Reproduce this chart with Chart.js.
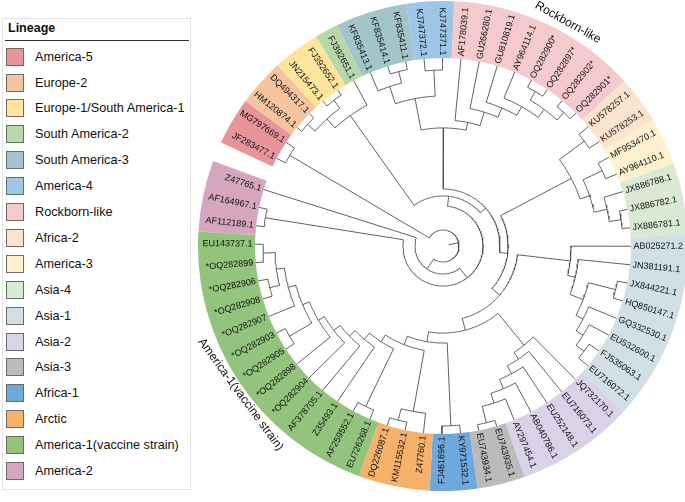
<!DOCTYPE html>
<html>
<head>
<meta charset="utf-8">
<title>Lineage phylogeny</title>
<script src="https://cdn.jsdelivr.net/npm/chart.js@4.4.1/dist/chart.umd.min.js"></script>
<style>
  html, body { margin:0; padding:0; background:#ffffff; width:685px; height:502px; overflow:hidden; position:relative; font-family:"Liberation Sans", Arial, sans-serif; }
  #ringCanvas { position:absolute; left:198px; top:1px; }
  #treeCanvas { position:absolute; left:0; top:0; }
  #legend { position:absolute; left:2px; top:18px; width:189px; height:472px; border:1px solid #e2e2e2; box-sizing:border-box; background:#fff; }
  #legend .title { position:absolute; left:5px; top:2px; font-weight:bold; font-size:12.5px; color:#111; }
  #legend .rule { position:absolute; left:2px; right:1px; top:21px; height:0; border-top:1.3px solid #333; }
  .item { position:absolute; left:3px; height:18px; width:180px; }
  .sw { position:absolute; left:0; top:0; width:16px; height:16px; border:1px solid #6a6a6a; }
  .lab { position:absolute; left:29px; top:0; line-height:18px; font-size:12.7px; color:#111; white-space:nowrap; }
</style>
</head>
<body>
<div id="legend"><div class="title">Lineage</div><div class="rule"></div></div>
<canvas id="ringCanvas" width="490" height="490"></canvas>
<canvas id="treeCanvas" width="685" height="502"></canvas>
<script>
// ---------------- data ----------------
const lineageNames = ["America-5","Europe-2","Europe-1/South America-1","South America-2","South America-3","America-4","Rockborn-like","Africa-2","America-3","Asia-4","Asia-1","Asia-2","Asia-3","Africa-1","Arctic","America-1(vaccine strain)","America-2"];
const lineageColors = ["#e8959a","#f6c59e","#ffe49b","#b7d8a8","#a3c4c8","#9fc5e8","#f5cacd","#fce3cf","#fff1cf","#d9ead4","#d0e0e4","#d9d2e9","#bbbbbb","#6fa8dc","#f6b26b","#93c47d","#d5a6bd"];

const leafNames = ["JF283477.1","MG797669.1","HM120874.1","DQ494317.1","JN215473.1","FJ392652.1","FJ392651.1",
  "KF835413.1","KF835414.1","KF835411.1","KJ747372.1","KJ747371.1",
  "AF178039.1","GU266280.1","GU810819.1","AY964114.1","OQ282900*","OQ282897*","OQ282902*","OQ282901*",
  "KU578257.1","KU578253.1","MF953470.1","AY964110.1","JX886788.1","JX886782.1","JX886781.1",
  "AB025271.2","JN381191.1","JX844221.1","HQ850147.1","GQ332530.1","EU532600.1","FJ535063.1","EU716072.1",
  "JQ732170.1","EU716073.1","EU252148.1","AB040786.1","AY297454.1","EU743935.1","EU743934.1",
  "KY971532.1","FJ461696.1","Z47760.1","KM115532.1","DQ226087.1",
  "EU726268.1","AF259552.1","Z35493.1","AF378705.1","*OQ282904","*OQ282898","*OQ282905","*OQ282903",
  "*OQ282907","*OQ282908","*OQ282906","*OQ282899","EU143737.1",
  "AF112189.1","AF164967.1","Z47765.1"];
const leafLineage = [0,0,1,1,2,2,3,4,4,4,5,5,6,6,6,6,6,6,6,6,7,7,8,8,9,9,9,
  10,10,10,10,10,10,10,10,11,11,11,11,11,12,12,13,13,14,14,14,
  15,15,15,15,15,15,15,15,15,15,15,15,15,16,16,16];

// internal nodes: refs < 100 are leaves, refs >= 100 are internal nodes (100 + index)
const nodeChildren = [
  [10,11],[8,9],[7,101],[102,100],                                   // South America-3 + America-4
  [16,17],[18,19],[104,105],[15,106],[14,107],[13,108],[12,109],[103,110], // Rockborn-like
  [0,1],[2,3],[4,5],[113,114],[115,6],                               // America-5, Europe
  [20,21],[22,23],[25,26],[24,119],[118,120],[117,121],              // Africa-2, America-3, Asia-4
  [33,34],[32,123],[31,124],[29,30],[126,125],[28,127],[27,128],     // Asia-1
  [40,41],[39,130],[38,131],[37,132],[36,133],[35,134],              // Asia-2, Asia-3
  [42,43],[45,46],[44,137],                                          // Africa-1, Arctic
  [58,59],[56,57],[140,139],[55,141],[53,54],[143,142],[52,144],[51,145],[50,146],[49,147],[47,48],[149,148], // America-1
  [60,61],                                                           // America-2 pair
  [138,150],[136,152],[135,153],[129,154],[122,155],[111,156],[116,157],[158,151],[159,62],[112,160] // backbone
];
// node height as a fraction of the root-to-tip distance
const nodeHeight = [
  0.936,0.957,0.894,0.798,
  0.957,0.957,0.904,0.851,0.798,0.745,0.670,0.628,
  0.947,0.968,0.968,0.915,0.851,
  0.936,0.936,0.957,0.894,0.824,0.771,
  0.936,0.883,0.840,0.947,0.798,0.723,0.681,
  0.968,0.878,0.824,0.771,0.723,0.681,
  0.957,0.957,0.894,
  0.957,0.947,0.894,0.851,0.947,0.809,0.771,0.734,0.691,0.649,0.947,0.606,
  0.957,
  0.564,0.516,0.463,0.399,0.346,0.303,0.266,0.213,0.149,0.085
];
const rootEdge = 0.053;

const cladeLabels = ["Rockborn-like","America-1(vaccine strain)"];
const cladeLabelLineage = [6,15];

// ---------------- layout ----------------
const CX = 443, CY = 246, R_TIP = 188, R_LABEL = 190.5;
const START = 207.8, STEP = 5.64;
const RING_OUT = 245, RING_IN = 188;
const CLADE_SHIFT = [4, -3], CLADE_R = [256, 251];

// legend (html, generated from the lineage arrays)
const legendEl = document.getElementById('legend');
lineageNames.forEach((n, k) => {
  const it = document.createElement('div');
  it.className = 'item';
  it.style.top = (28.6 + k * 25.9) + 'px';
  it.innerHTML = '<div class="sw" style="background:' + lineageColors[k] + '"></div><div class="lab"></div>';
  it.querySelector('.lab').textContent = n;
  legendEl.appendChild(it);
});

// ---------------- ring (doughnut) ----------------
const counts = lineageNames.map((_, k) => leafLineage.filter(v => v === k).length);
const gap = 360 / STEP - leafNames.length;
new Chart(document.getElementById('ringCanvas'), {
  type: 'doughnut',
  data: {
    labels: lineageNames.concat(['']),
    datasets: [{
      data: counts.concat([gap]),
      backgroundColor: lineageColors.concat(['rgba(0,0,0,0)']),
      borderWidth: 0
    }]
  },
  options: {
    responsive: false, animation: false, events: [],
    radius: RING_OUT, cutout: RING_IN,
    rotation: START - STEP / 2 + 90, circumference: 360,
    layout: { padding: 0 },
    plugins: { legend: { display: false }, tooltip: { enabled: false } }
  }
});

// ---------------- tree ----------------
function leafAngle(i) { return START + i * STEP; }
function angleOf(ref) {
  if (ref < 100) return leafAngle(ref);
  const ch = nodeChildren[ref - 100];
  return (angleOf(ch[0]) + angleOf(ch[ch.length - 1])) / 2;
}
function radiusOf(ref) { return ref < 100 ? R_TIP : nodeHeight[ref - 100] * R_TIP; }
function pt(r, aDeg) {
  const a = aDeg * Math.PI / 180;
  return { x: CX + r * Math.cos(a), y: CY + r * Math.sin(a) };
}
const childSet = new Set(nodeChildren.flat());
const datasets = [];
const lineStyle = { showLine: true, borderColor: '#505050', borderWidth: 0.9, pointRadius: 0, fill: false, tension: 0, clip: false };
nodeChildren.forEach((ch, k) => {
  const rN = nodeHeight[k] * R_TIP;
  const a0 = angleOf(ch[0]), a1 = angleOf(ch[ch.length - 1]);
  const pts = [pt(radiusOf(ch[0]), a0), pt(rN, a0)];
  const n = Math.max(2, Math.ceil(Math.abs(a1 - a0)));
  for (let j = 1; j < n; j++) pts.push(pt(rN, a0 + (a1 - a0) * j / n));
  pts.push(pt(rN, a1), pt(radiusOf(ch[ch.length - 1]), a1));
  datasets.push(Object.assign({ data: pts }, lineStyle));
  if (!childSet.has(100 + k)) {
    const a = angleOf(100 + k);
    datasets.push(Object.assign({ data: [pt(rN - rootEdge * R_TIP, a), pt(rN, a)] }, lineStyle));
  }
});

const labelPlugin = {
  id: 'tipLabels',
  afterDatasetsDraw(chart) {
    const { ctx, scales: { x, y } } = chart;
    ctx.save();
    ctx.fillStyle = '#111';
    ctx.textBaseline = 'middle';
    ctx.font = '9px "Liberation Sans", Arial, sans-serif';
    leafNames.forEach((name, i) => {
      const a = leafAngle(i);
      const p = pt(R_LABEL, a);
      const rad = a * Math.PI / 180;
      const norm = ((a % 360) + 360) % 360;
      ctx.save();
      ctx.translate(x.getPixelForValue(p.x), y.getPixelForValue(p.y));
      if (norm > 90 && norm < 270) { ctx.rotate(rad + Math.PI); ctx.textAlign = 'right'; }
      else { ctx.rotate(rad); ctx.textAlign = 'left'; }
      ctx.fillText(name, 0, 0);
      ctx.restore();
    });
    ctx.font = '12px "Liberation Sans", Arial, sans-serif';
    ctx.textAlign = 'center';
    cladeLabels.forEach((txt, c) => {
      const idx = leafLineage.map((v, i) => v === cladeLabelLineage[c] ? i : -1).filter(i => i >= 0);
      const a = (leafAngle(idx[0]) + leafAngle(idx[idx.length - 1])) / 2 + CLADE_SHIFT[c];
      const norm = ((a % 360) + 360) % 360;
      const p = pt(CLADE_R[c], a);
      ctx.save();
      ctx.translate(x.getPixelForValue(p.x), y.getPixelForValue(p.y));
      ctx.rotate((norm < 180 ? a - 90 : a + 90) * Math.PI / 180);
      ctx.fillText(txt, 0, 0);
      ctx.restore();
    });
    ctx.restore();
  }
};

new Chart(document.getElementById('treeCanvas'), {
  type: 'scatter',
  data: { datasets: datasets },
  options: {
    responsive: false, animation: false, events: [],
    layout: { padding: 0 },
    scales: {
      x: { type: 'linear', min: 0, max: 685, display: false },
      y: { type: 'linear', min: 0, max: 502, reverse: true, display: false }
    },
    plugins: { legend: { display: false }, tooltip: { enabled: false } }
  },
  plugins: [labelPlugin]
});
</script>
</body>
</html>
